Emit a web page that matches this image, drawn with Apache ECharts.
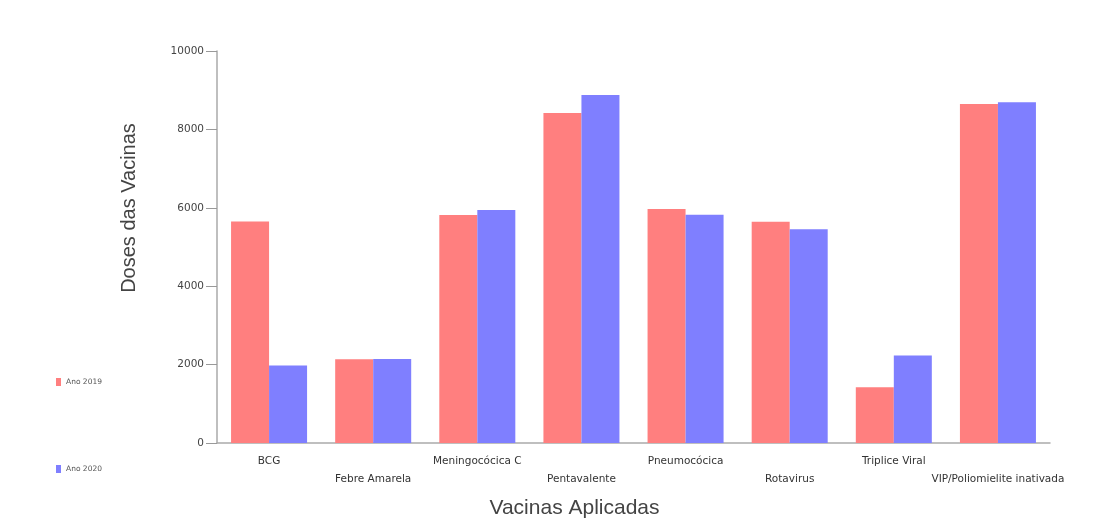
<!DOCTYPE html>
<html>
<head>
<meta charset="utf-8">
<script src="https://cdn.jsdelivr.net/npm/echarts@6/dist/echarts.min.js"></script>
<style>
  html, body { margin: 0; padding: 0; background: #fff; }
  #chart { width: 1107px; height: 525px; }
</style>
</head>
<body>
<div id="chart"></div>
<script>
// vacinas aplicadas por ano
const categories = ['BCG', 'Febre Amarela', 'Meningocócica C', 'Pentavalente', 'Pneumocócica', 'Rotavirus', 'Triplice Viral', 'VIP/Poliomielite inativada']
const ano2019 = [5650, 2135, 5815, 8420, 5970, 5645, 1425, 8645]
const ano2020 = [1980, 2140, 5945, 8880, 5825, 5450, 2235, 8695]
const yTicks = [0, 2000, 4000, 6000, 8000, 10000]

const chart = echarts.init(document.getElementById('chart'))
const axisColor = '#aaaaaa'
const labelColor = '#444'

chart.setOption({
  animation: false,
  color: ['#ff7f7f', '#7f7fff'],
  legend: {
    orient: 'vertical',
    left: 51,
    top: 373,
    itemGap: 79,
    itemWidth: 5,
    itemHeight: 8,
    icon: 'rect',
    textStyle: { fontSize: 7.5, color: '#555', fontFamily: 'DejaVu Sans' },
    data: ['Ano 2019', 'Ano 2020']
  },
  grid: {
    left: 217,
    right: 57,
    top: 51,
    bottom: 82
  },
  xAxis: {
    type: 'category',
    data: categories,
    name: 'Vacinas Aplicadas',
    nameLocation: 'middle',
    nameGap: 55,
    nameTextStyle: {
      fontSize: 21,
      color: '#444',
      fontFamily: 'Liberation Sans',
      padding: [0, 118, 0, 0]
    },
    axisLine: { lineStyle: { color: axisColor, width: 1.5 } },
    axisTick: { length: 9, lineStyle: { color: '#888' } },
    axisLabel: {
      interval: 0,
      margin: 9,
      fontSize: 10.5,
      lineHeight: 18,
      color: '#333',
      fontFamily: 'DejaVu Sans',
      formatter: function (value, index) {
        return index % 2 === 1 ? '\n' + value : value
      }
    }
  },
  yAxis: {
    type: 'value',
    min: yTicks[0],
    max: yTicks[yTicks.length - 1],
    interval: 2000,
    name: 'Doses das Vacinas',
    nameLocation: 'middle',
    nameGap: 78,
    nameTextStyle: {
      fontSize: 20,
      color: '#444',
      fontFamily: 'Liberation Sans',
      padding: [0, 0, 0, 78]
    },
    axisLine: { show: true, lineStyle: { color: axisColor, width: 1.5 } },
    axisTick: { show: true, length: 11, lineStyle: { color: '#999' } },
    splitLine: { show: false },
    axisLabel: {
      margin: 13,
      fontSize: 10.5,
      color: labelColor,
      fontFamily: 'DejaVu Sans',
      formatter: function (value) {
        return String(value)
      }
    }
  },
  series: [
    {
      name: 'Ano 2019',
      type: 'bar',
      barGap: '0%',
      barCategoryGap: '27%',
      data: ano2019
    },
    {
      name: 'Ano 2020',
      type: 'bar',
      barGap: '0%',
      barCategoryGap: '27%',
      data: ano2020
    }
  ]
})
</script>
</body>
</html>
